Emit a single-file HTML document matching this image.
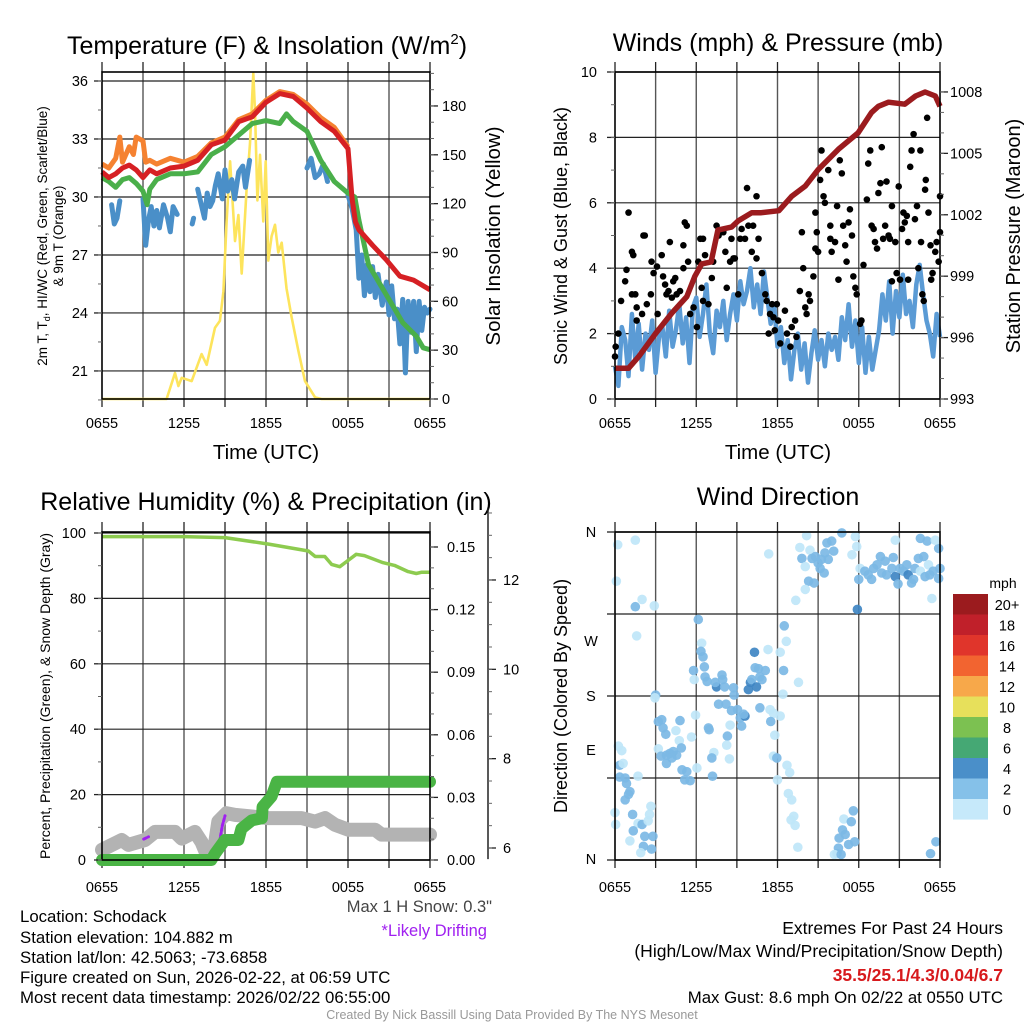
<!DOCTYPE html>
<html><head><meta charset="utf-8">
<style>
html,body{margin:0;padding:0;background:#fff;}
svg{display:block;font-family:"Liberation Sans",Arial,sans-serif;}
</style></head>
<body>
<svg id="fig" xmlns="http://www.w3.org/2000/svg" width="1024" height="1024" viewBox="0 0 1024 1024">
<rect x="0" y="0" width="1024" height="1024" fill="#fff"/>
<text x="267" y="54" font-size="25" text-anchor="middle">Temperature (F) &amp; Insolation (W/m<tspan font-size="15" dy="-10">2</tspan><tspan dy="10">)</tspan></text>
<text x="778" y="51" font-size="25" text-anchor="middle">Winds (mph) &amp; Pressure (mb)</text>
<text x="266" y="510" font-size="25" text-anchor="middle">Relative Humidity (%) &amp; Precipitation (in)</text>
<text x="778" y="505" font-size="25" text-anchor="middle">Wind Direction</text>
<text x="266" y="459" font-size="20.5" text-anchor="middle">Time (UTC)</text>
<text x="778" y="459" font-size="20.5" text-anchor="middle">Time (UTC)</text>
<text transform="translate(47,236) rotate(-90)" font-size="13.5" text-anchor="middle">2m T, T<tspan font-size="9" dy="3">d</tspan><tspan dy="-3">, HI/WC (Red, Green, Scarlet/Blue)</tspan></text>
<text transform="translate(63,236) rotate(-90)" font-size="13.5" text-anchor="middle">&amp; 9m T (Orange)</text>
<text transform="translate(500,236) rotate(-90)" font-size="20.5" text-anchor="middle">Solar Insolation (Yellow)</text>
<text transform="translate(567,236) rotate(-90)" font-size="18" text-anchor="middle">Sonic Wind &amp; Gust (Blue, Black)</text>
<text transform="translate(1020,236) rotate(-90)" font-size="20" text-anchor="middle">Station Pressure (Maroon)</text>
<text transform="translate(50,696) rotate(-90)" font-size="14" text-anchor="middle">Percent, Precipitation (Green), &amp; Snow Depth (Gray)</text>
<text transform="translate(567,696) rotate(-90)" font-size="18" text-anchor="middle">Direction (Colored By Speed)</text>
<text x="1003" y="588" font-size="14" text-anchor="middle">mph</text>

<text x="492" y="912" font-size="16.5" fill="#444" text-anchor="end">Max 1 H Snow: 0.3"</text>
<text x="487" y="936" font-size="16.5" fill="#a020f0" text-anchor="end">*Likely Drifting</text>
<g font-size="16.8">
<text x="20" y="922">Location: Schodack</text>
<text x="20" y="943">Station elevation: 104.882 m</text>
<text x="20" y="963">Station lat/lon: 42.5063; -73.6858</text>
<text x="20" y="983">Figure created on Sun, 2026-02-22, at 06:59 UTC</text>
<text x="20" y="1003">Most recent data timestamp: 2026/02/22 06:55:00</text>
</g>
<g font-size="17.5" text-anchor="end">
<text x="1003" y="934">Extremes For Past 24 Hours</text>
<text x="1003" y="957">(High/Low/Max Wind/Precipitation/Snow Depth)</text>
<text x="1003" y="981" fill="#d7191c" font-weight="bold">35.5/25.1/4.3/0.04/6.7</text>
<text x="1003" y="1003" font-size="16.8">Max Gust: 8.6 mph On 02/22 at 0550 UTC</text>
</g>
<text x="512" y="1019" font-size="12.5" fill="#999" text-anchor="middle">Created By Nick Bassill Using Data Provided By The NYS Mesonet</text>
</svg>
<script>
// ---------- DATA ----------
const timeTickLabels = ["0655","1255","1855","0055","0655"];
const tempTicks = [21,24,27,30,33,36];
const insolTicks = [0,30,60,90,120,150,180];
const windTicks = [0,2,4,6,8,10];
const pressTicks = [993,996,999,1002,1005,1008];
const rhTicks = [0,20,40,60,80,100];
const precipTicks = [0.00,0.03,0.06,0.09,0.12,0.15];
const precipTickLabels = ["0.00","0.03","0.06","0.09","0.12","0.15"];
const snowTicks = [6,8,10,12];
const dirTickLabels = ["N","E","S","W","N"];
const colorbarLabels = ["20+","18","16","14","12","10","8","6","4","2","0"];
const colorbarColors = ["#9b1b1e","#c0202a","#e0352b","#f26430","#f7a84a","#e7e05b","#7cc151","#45a874","#4a8fc9","#85c1e9","#c6e9fa"];

const orangeH=[0,0.5,1,1.3,1.5,2,2.3,2.5,3,3.2,3.5,4,5,6,7,8,9,10,11,12,13,14,15,16,17,18];
const orangeV=[31.7,31.5,32.0,33.1,31.8,32.6,32.2,33.1,32.9,31.8,31.9,31.7,32.0,31.8,32.1,32.8,33.1,34.0,34.3,35.0,35.45,35.3,34.8,34.1,33.6,32.6];
const redH=[0,0.5,1,1.5,2,2.5,3,3.5,4,5,6,7,8,9,10,11,12,13,14,15,16,17,18,18.3,18.55,18.8,19.8,20.8,21.8,22.8,24];
const redV=[31.3,31.0,31.2,31.5,31.65,31.4,31.0,31.4,31.2,31.5,31.6,31.9,32.7,32.95,33.9,34.15,34.9,35.35,35.2,34.6,33.9,33.4,32.5,29.9,28.7,28.3,27.5,26.75,25.9,25.7,25.2];
const greenH=[0,0.5,1,1.5,2,2.5,3,3.3,3.5,4,5,6,7,8,9,10,11,12,13,13.5,14,15,16,17,18,18.5,18.8,19.5,20,21,22,23,23.5,24];
const greenV=[31.0,30.8,30.5,30.9,31.0,30.7,30.3,29.6,30.4,30.9,31.2,31.2,31.3,32.2,32.6,33.2,33.8,33.95,33.8,34.3,33.9,33.4,31.9,30.8,30.2,30.0,28.8,26.5,25.9,24.7,23.5,22.8,22.2,22.1];
const dewH=[0.7,0.9,1.1,1.3,null,3.0,3.2,3.4,3.6,3.8,4.0,4.2,4.5,4.8,5.0,5.2,5.5,null,6.6,6.7,null,7.0,7.2,7.5,7.7,7.9,8.1,8.3,8.5,8.8,9.0,9.2,9.5,9.7,10.0,10.3,10.5,10.8,null,15.0,15.3,15.6,15.9,16.2,16.5,null,18.0,18.3,18.6,18.8,19.0,19.2,19.4,19.6,19.8,20.0,20.2,20.5,20.8,21.0,21.2,21.4,21.6,21.8,22.0,22.2,22.4,22.6,22.8,23.0,23.2,23.4,23.6,23.8,24.0];
const dewV=[29.6,28.6,28.9,29.8,null,29.9,27.5,28.8,29.5,28.5,29.3,28.4,29.6,28.9,28.2,29.5,29.1,null,28.6,28.9,null,30.4,29.8,28.9,30.2,29.5,29.8,30.6,31.2,29.9,31.4,30.3,30.9,29.9,31.3,31.6,30.5,31.9,null,31.5,32.0,31.0,31.2,31.7,30.8,null,30.1,29.4,28.3,25.8,27.0,24.9,26.5,25.1,26.4,24.8,26.0,24.4,25.6,23.9,25.4,23.7,24.2,22.4,24.7,20.9,24.6,23.0,24.6,22.0,24.6,23.1,24.3,24.0,24.2];
const solarH=[0,4.73,5.34,5.59,5.83,6.56,7.29,7.66,8.27,8.63,8.88,9.12,9.37,9.73,9.98,10.22,10.59,10.83,11.07,11.2,11.37,11.56,11.8,11.98,12.17,12.41,12.66,12.9,13.15,13.5,13.88,14.37,14.85,15.59,16.07,24];
const solarV=[0,0,16,8,13,11,27.6,21,43.8,48,66,109,146,97,113,77,130,157,200,175,122,150,109,146,85,100,107,90,96,68,50,29.5,11,1,0,0];

const pressH=[0,1,1.75,3,4.2,5.3,5.9,6.4,7.1,7.6,8.6,9.1,10.1,10.8,12.1,13.05,14.05,15.0,16.5,17.95,18.95,19.45,20.2,21.4,22.2,22.9,23.65,24];
const pressV=[994.5,994.5,995.07,996.2,997.2,998.0,999.0,999.6,999.7,1001.25,1001.4,1001.7,1002.1,1002.1,1002.2,1002.9,1003.4,1004.2,1005.2,1006.0,1007.0,1007.3,1007.5,1007.4,1007.8,1008.0,1007.8,1007.3];
const sonicWind=[1.0,0.4,2.2,1.8,0.7,2.6,1.2,2.3,0.9,2.0,1.5,2.4,0.8,1.9,2.2,1.3,2.7,1.6,2.1,2.9,1.7,2.5,1.1,2.8,3.1,1.9,2.6,3.5,2.0,1.4,2.7,2.2,3.0,1.8,2.6,3.2,2.4,3.6,2.9,3.3,4.0,2.8,3.5,2.6,3.9,3.1,2.3,2.9,1.6,2.2,1.1,1.8,0.6,1.5,2.0,0.9,1.7,0.5,1.4,2.1,1.2,1.8,1.0,2.0,1.5,1.9,1.2,2.5,1.8,2.9,1.6,2.4,1.1,2.2,0.8,1.9,0.9,1.5,2.1,3.2,2.4,3.6,2.0,3.3,2.5,3.8,2.6,3.0,2.2,3.5,4.1,3.2,2.4,2.0,1.3,2.6,1.9];
const gustH=[0.0,0.05,0.25,0.45,0.75,0.85,1.0,1.25,1.35,1.25,1.5,1.6,1.6,2.0,2.1,2.2,2.35,2.65,2.7,2.85,3.1,3.15,3.45,3.55,3.7,3.8,3.95,4.05,4.2,4.3,4.45,4.55,4.8,5.05,5.05,5.15,5.3,5.4,5.55,5.8,6.05,6.15,6.3,6.4,6.5,6.5,6.65,6.9,7.15,7.25,7.5,7.65,8.0,8.15,8.25,8.5,8.6,8.75,8.85,9.1,9.25,9.35,9.6,9.75,9.85,10.1,10.2,10.45,10.45,10.6,10.85,11.1,11.2,11.35,11.45,11.6,11.7,11.8,11.95,12.05,12.2,12.55,12.7,12.95,13.05,13.3,13.4,13.65,13.8,13.9,14.05,14.15,14.3,14.4,14.65,14.8,14.8,14.9,15.0,15.15,15.25,15.4,15.5,15.75,15.9,15.9,16.0,16.25,16.4,16.5,16.6,16.75,16.85,17.0,17.1,17.25,17.35,17.5,17.6,17.75,17.85,18.1,18.2,18.35,18.6,18.7,18.85,18.95,19.1,19.2,19.35,19.45,19.6,19.7,19.8,19.95,20.05,20.2,20.3,20.45,20.45,20.7,20.8,20.95,21.05,21.2,21.3,21.4,21.55,21.65,21.65,21.8,21.9,22.05,22.15,22.3,22.4,22.55,22.6,22.7,22.8,22.9,22.95,23.05,23.15,23.3,23.35,23.45,23.65,23.75,23.9,24.0,24.0];
const gustV=[1.3,1.6,2.0,3.0,3.6,3.95,5.7,4.5,4.4,3.2,3.2,2.8,2.4,2.6,5.0,5.0,2.9,3.2,4.2,3.85,4.05,2.6,4.4,3.75,3.5,3.2,3.3,4.8,3.1,3.6,3.7,3.2,3.3,4.0,4.7,5.4,5.3,4.2,2.6,2.8,2.2,4.2,4.9,3.4,4.9,3.0,4.4,2.9,3.7,4.2,5.3,5.0,5.1,4.5,3.4,4.2,4.9,4.3,4.3,3.2,4.9,5.2,4.9,6.45,5.3,4.5,5.3,6.2,4.3,4.9,3.85,3.2,3.0,2.0,2.6,2.9,2.5,2.1,2.9,2.4,1.7,2.7,2.0,1.6,2.2,2.4,1.9,3.3,5.1,4.0,2.8,2.6,3.2,3.0,3.75,5.7,4.6,5.1,4.5,6.7,7.6,6.2,6.0,7.0,5.3,4.9,4.5,4.8,5.9,3.65,7.3,6.9,5.3,4.7,4.2,5.4,5.8,5.0,3.75,3.4,3.2,2.3,2.4,4.1,6.1,7.2,7.6,5.3,5.2,4.8,4.6,6.3,6.6,7.7,4.9,5.3,6.65,5.0,4.9,5.9,3.6,4.8,3.85,6.5,3.65,5.2,5.7,5.4,5.6,4.8,3.65,7.1,7.6,8.1,5.5,5.9,4.0,7.6,4.8,3.2,3.0,6.4,6.7,8.6,5.7,4.7,3.65,3.85,4.5,4.8,4.2,5.1,6.2];

const rhH=[0,3,6,9,12.2,15.1,15.6,16.3,16.8,17.4,18.0,18.6,19.2,20.5,21.4,22.4,23.0,23.4,24];
const rhV=[98.9,98.9,98.9,98.6,96.6,94.5,92.8,92.8,90.4,89.7,91.6,93.5,93.1,91.0,90.1,88.2,87.6,88.0,88.0];
const precipH=[0,8.0,8.27,8.99,9.98,10.2,10.95,11.7,11.75,12.4,12.8,24];
const precipV=[0,0,0.003,0.0096,0.0096,0.015,0.019,0.020,0.0255,0.0304,0.0375,0.0375];
const snowH=[0,1.44,1.93,3.15,3.88,5.34,5.83,6.8,7.29,7.78,8.15,8.51,9.12,9.73,12.17,14.61,15.59,16.32,17.05,18.02,19.0,19.98,20.46,24];
const snowV=[5.96,6.18,6.07,6.18,6.36,6.36,6.21,6.36,6.13,5.77,5.85,6.59,6.78,6.74,6.67,6.67,6.59,6.67,6.52,6.41,6.41,6.41,6.3,6.3];
const driftH=[[3.05,3.4],[8.55,8.8,9.0]];
const driftV=[[6.2,6.25],[6.05,6.5,6.72]];

const dirH=[0.2,1.5,0.1,2.0,1.5,2.9,1.6,6.15,6.4,6.35,6.5,6.6,5.8,5.85,6.65,6.8,7.5,7.4,7.9,7.95,8.1,7.65,8.2,8.75,8.8,8.6,9.05,9.25,9.35,9.6,9.5,10.3,10.35,10.6,11.1,10.7,10.85,11.3,10.0,9.85,10.1,10.45,10.7,12.5,12.65,12.2,12.45,13.55,12.4,11.45,11.7,12.2,11.5,11.8,11.7,11.95,12.7,12.9,12.0,12.8,13.05,13.2,13.0,13.3,13.5,3.0,2.95,3.2,3.45,3.55,3.75,4.5,4.8,4.75,3.2,3.4,3.8,4.05,4.3,4.55,4.9,3.8,4.2,4.95,5.3,5.15,5.55,6.05,5.95,5.65,6.9,6.95,8.3,8.25,7.3,7.15,8.45,7.2,8.5,0.25,0.5,0.35,0.6,0.35,0.75,0.85,1.1,1.0,0.75,0.0,0.05,1.3,1.7,1.7,2.0,2.45,2.55,2.65,1.35,2.2,2.8,2.1,2.7,1.1,1.9,17.6,16.9,17.45,16.8,17.0,16.55,17.7,17.25,16.5,16.4,16.2,16.7,23.7,23.3,14.15,13.65,14.4,13.8,14.05,14.55,14.8,15.0,15.25,15.5,15.65,16.0,16.15,15.75,15.45,15.15,14.3,14.7,14.05,13.35,11.35,16.75,17.75,17.85,17.5,18.1,18.0,18.45,18.7,18.95,19.1,19.35,19.6,19.7,19.95,20.05,20.45,20.55,20.7,20.9,21.05,21.3,21.55,21.65,21.9,22.05,22.15,22.4,22.55,22.8,22.9,23.15,23.25,23.5,23.9,23.9,24.0,22.55,23.05,23.65,20.7,23.4,17.9];
const dirV=[346,351,306,286,278,279,246,264,238,229,223,212,208,198,201,196,190,195,203,198,190,171,171,189,181,164,165,156,147,158,160,228,211,210,208,201,198,231,195,187,198,190,167,257,240,228,208,195,182,165,161,158,152,137,114,112,104,96,88,73,66,48,44,38,14,181,178,152,154,145,138,142,153,131,122,114,115,117,119,115,123,106,112,99,97,88,87,101,159,135,145,143,136,126,118,112,111,92,148,125,120,104,106,91,90,84,75,72,66,52,39,50,92,40,39,43,50,59,32,26,26,15,12,21,8,54,45,42,33,28,24,20,17,13,7,6,6,20,7,356,343,340,331,322,331,333,326,330,337,348,350,339,330,315,320,306,304,297,285,336,359,355,344,335,320,308,317,313,308,320,324,333,315,328,313,320,332,311,303,320,317,324,313,304,308,320,331,317,333,311,324,313,317,342,309,320,353,350,351,351,287,275];
const dirSpeed=[1,1,1,1,3,1,1,3,1,3,3,3,3,1,3,3,5,3,3,3,3,3,3,3,3,3,3,3,3,5,3,5,3,3,3,3,3,1,5,5,3,5,3,3,1,1,3,1,1,1,1,1,3,1,1,3,1,1,1,1,1,1,1,1,1,3,1,3,3,3,3,1,3,1,1,3,3,3,3,3,3,3,3,3,3,3,3,1,1,1,3,3,3,1,1,3,1,3,1,1,1,3,1,3,3,3,3,3,3,1,1,3,1,1,3,1,1,1,3,3,3,3,3,1,1,3,1,3,3,3,3,3,3,3,3,1,3,3,3,1,1,1,3,1,3,3,3,3,3,3,3,3,3,3,3,3,3,1,1,1,3,1,1,1,1,3,3,3,3,3,3,3,3,3,3,3,3,5,3,3,3,3,5,3,3,3,3,1,3,3,1,3,3,3,3,3,3,3,1,1,1];

// ---------- SCALES ----------
const NS="http://www.w3.org/2000/svg";
const svg=document.getElementById("fig");
const P1={l:102,r:430,t:72,b:399}, P2={l:615,r:940,t:72,b:399}, P3={l:102,r:430,t:532,b:860}, P4={l:615,r:940,t:532,b:860};
const xA=h=>P1.l+h*(P1.r-P1.l)/24;
const xB=h=>P2.l+h*(P2.r-P2.l)/24;
const yTemp=v=>81+(36-v)*19.33;
const ySolar=w=>399-w*1.628;
const yWind=v=>399-v*32.7;
const yPress=p=>399-(p-993)*20.47;
const yRH=r=>860-r*3.27;
const yPrecip=p=>860-p*2086.7;
const ySnow=s=>848-(s-6)*44.67;
const yDir=d=>860-d*(328/360);

function mk(tag,attrs,parent){const e=document.createElementNS(NS,tag);for(const k in attrs)e.setAttribute(k,attrs[k]);(parent||svg).appendChild(e);return e;}
function pathD(H,V,xf,yf){let d="",pen=false;for(let i=0;i<H.length;i++){if(H[i]===null||V[i]===null){pen=false;continue;}d+=(pen?"L":"M")+xf(H[i]).toFixed(1)+","+yf(V[i]).toFixed(1);pen=true;}return d;}

// ---------- FRAMES / GRIDS ----------
function frame(P,hLines,id){
  const g=mk("g",{});
  
  
  for(let k=1;k<8;k++){
    const x=P.l+k*(P.r-P.l)/8;
    const ln=mk("line",{x1:x,x2:x,y1:P.t,y2:P.b,stroke:"#555","stroke-width":1.4},g);
    
    
  }
  hLines.forEach(y=>{
    const ln=mk("line",{x1:P.l,x2:P.r,y1:y,y2:y,stroke:"#222","stroke-width":1.2},g);
    
    
  });
  for(let k=0;k<=8;k++){
    const x=P.l+k*(P.r-P.l)/8;
    const t1=mk("line",{x1:x,x2:x,y1:P.t-10,y2:P.t,stroke:"#222","stroke-width":1.3},g);
    
    
    const t2=mk("line",{x1:x,x2:x,y1:P.b,y2:P.b+8,stroke:"#222","stroke-width":1.3},g);
    
    
  }
  return g;
}
function border(P,id){
  const r=mk("rect",{x:P.l,y:P.t,width:P.r-P.l,height:P.b-P.t,fill:"none",stroke:"#000","stroke-width":1.6});
  
  
}
function xLabels(P,y,id){
  timeTickLabels.forEach((s,i)=>{
    const t=mk("text",{x:P.l+i*(P.r-P.l)/4,y:y,"font-size":14.5,"text-anchor":"middle"});
    t.textContent=s;
    
    
  });
}
function yAxisTicks(vals,labels,yf,x,side,anchor,lx,id,minor,fs){
  vals.forEach((v,i)=>{
    const y=yf(v);
    const tk=mk("line",{x1:x,x2:x+(side<0?-8:8),y1:y,y2:y,stroke:"#222","stroke-width":1.3});
    
    
    const t=mk("text",{x:lx,y:y+5,"font-size":fs||14.5,"text-anchor":anchor});
    t.textContent=labels[i];
    
    
  });
  (minor||[]).forEach(v=>{
    const y=yf(v);
    const tk=mk("line",{x1:x,x2:x+(side<0?-4:4),y1:y,y2:y,stroke:"#666","stroke-width":1});
    
    
  });
}
function range(a,b,s){const o=[];for(let v=a;v<=b+1e-9;v+=s)o.push(+v.toFixed(4));return o;}

frame(P1,tempTicks.map(yTemp),"temperature");
frame(P2,windTicks.map(yWind),"winds");
frame(P3,rhTicks.map(yRH),"humidity");
frame(P4,[0,90,180,270,360].map(yDir),"direction");

// ---------- PANEL 1 SERIES ----------
const solar=mk("path",{d:pathD(solarH,solarV,xA,ySolar),fill:"none",stroke:"#fde45c","stroke-width":2.6,"stroke-linejoin":"round"});


const dew=mk("path",{d:pathD(dewH,dewV,xA,yTemp),fill:"none",stroke:"#4a8fc8","stroke-width":5,"stroke-linejoin":"round","stroke-linecap":"round"});


const org=mk("path",{d:pathD(orangeH,orangeV,xA,yTemp),fill:"none",stroke:"#f58231","stroke-width":5,"stroke-linejoin":"round"});


const grn=mk("path",{d:pathD(greenH,greenV,xA,yTemp),fill:"none",stroke:"#4aaf4a","stroke-width":5,"stroke-linejoin":"round"});


const red=mk("path",{d:pathD(redH,redV,xA,yTemp),fill:"none",stroke:"#d62024","stroke-width":5,"stroke-linejoin":"round"});


border(P1,"temperature");
yAxisTicks(tempTicks,tempTicks.map(String),yTemp,P1.l,-1,"end",88,"temperature-y",range(19.5,36,1.5));
yAxisTicks(insolTicks,insolTicks.map(String),ySolar,P1.r,1,"start",442,"insolation-y",range(0,200,10));
xLabels(P1,428,"temperature");

// ---------- PANEL 2 SERIES ----------
const sonicH=sonicWind.map((v,i)=>i*24/(sonicWind.length-1));
const sw=mk("path",{d:pathD(sonicH,sonicWind,xB,yWind),fill:"none",stroke:"#5b9bd5","stroke-width":4.5,"stroke-linejoin":"round"});


const gg=mk("g",{fill:"#000"});


gustH.forEach((h,i)=>{
  const c=mk("circle",{cx:xB(h),cy:yWind(gustV[i]),r:3.3},gg);
  
  
});
const pr=mk("path",{d:pathD(pressH,pressV,xB,yPress),fill:"none",stroke:"#9b1b1e","stroke-width":5.5,"stroke-linejoin":"round"});


border(P2,"winds");
yAxisTicks(windTicks,windTicks.map(String),yWind,P2.l,-1,"end",597,"wind-y",range(0,10,1));
yAxisTicks(pressTicks,pressTicks.map(String),yPress,P2.r,1,"start",950,"pressure-y",range(993,1008,1));
xLabels(P2,428,"winds");

// ---------- PANEL 3 SERIES ----------
const rh=mk("path",{d:pathD(rhH,rhV,xA,yRH),fill:"none",stroke:"#8dcb4f","stroke-width":3.5,"stroke-linejoin":"round"});


const sn=mk("path",{d:pathD(snowH,snowV,xA,ySnow),fill:"none",stroke:"#b3b3b3","stroke-width":14,"stroke-linejoin":"round","stroke-linecap":"round"});


driftH.forEach((H,i)=>{
  const p=mk("path",{d:pathD(H,driftV[i],xA,ySnow),fill:"none",stroke:"#a020f0","stroke-width":3,"stroke-dasharray":"3 2","stroke-linecap":"round"});
  
  
});
const pc=mk("path",{d:pathD(precipH,precipV,xA,yPrecip),fill:"none",stroke:"#4ab445","stroke-width":12,"stroke-linejoin":"round","stroke-linecap":"round"});


border(P3,"humidity");
yAxisTicks(rhTicks,rhTicks.map(String),yRH,P3.l,-1,"end",86,"rh-y",range(0,100,10));
yAxisTicks(precipTicks,precipTickLabels,yPrecip,P3.r,1,"start",447,"precip-y",range(0,0.15,0.01));
const snAx=mk("line",{x1:488,x2:488,y1:ySnow(5.75),y2:ySnow(13.6),stroke:"#222","stroke-width":1.5});


yAxisTicks(snowTicks,snowTicks.map(String),ySnow,488,1,"start",503,"snow-y",range(6,13.5,0.5));
xLabels(P3,892,"humidity");

// ---------- PANEL 4 ----------
const dcol=s=>s<2?"#bfe6f8":(s<4?"#7cb9e5":"#3f86c3");
const dg=mk("g",{});


dirH.forEach((h,i)=>{
  const c=mk("circle",{cx:xB(Math.min(h,24)),cy:yDir(dirV[i]),r:4.8,fill:dcol(dirSpeed[i]),"fill-opacity":0.92},dg);
  
  
});
border(P4,"direction");
const dirLabelY=[859,750,696,641,532];
dirTickLabels.forEach((s,i)=>{
  const t=mk("text",{x:591,y:dirLabelY[i]+5,"font-size":14.5,"text-anchor":"middle"});
  t.textContent=s;
  
  
});
[0,90,180,270,360].forEach(d=>{
  const tk=mk("line",{x1:P4.l-8,x2:P4.l,y1:yDir(d),y2:yDir(d),stroke:"#222","stroke-width":1.3});
  
  
});
xLabels(P4,892,"direction");
colorbarLabels.forEach((s,i)=>{
  const y=594+i*20.5;
  const r=mk("rect",{x:953,y:y,width:35,height:20.6,fill:colorbarColors[i]});
  
  
  const t=mk("text",{x:1007,y:y+16,"font-size":14.5,"text-anchor":"middle"});
  t.textContent=s;
  
  
});
</script>
</body></html>
